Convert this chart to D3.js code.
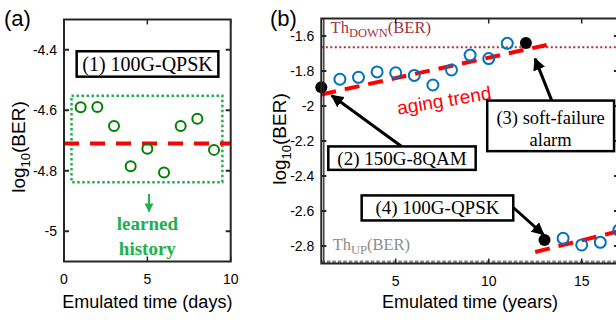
<!DOCTYPE html>
<html><head><meta charset="utf-8">
<script src="https://cdn.jsdelivr.net/npm/d3@7"></script>
<style>body{margin:0;background:#fff}svg{display:block}</style>
</head><body><svg id="c" width="616" height="320"></svg>
<script>
// ---- Panel (a) data ----
const daysA = [1,2,3,4,5,6,7,8,9];
const berA = [-4.59,-4.589,-4.652,-4.785,-4.727,-4.806,-4.652,-4.628,-4.731];
const meanA = -4.71;
const xTicksA = [0,5,10];
const yTicksA = [-5,-4.8,-4.6,-4.4];
// ---- Panel (b) data ----
const yearsB1 = [2,3,4,5,6,7,8,9,10,11];
const berB1 = [-1.847,-1.836,-1.805,-1.810,-1.825,-1.880,-1.794,-1.709,-1.729,-1.642];
const yearsB2 = [14,15,16,17];
const berB2 = [-2.756,-2.794,-2.779,-2.709];
const eventYears = [1,12,13];
const eventBer = [-1.893,-1.640,-2.766];
const trendYears1 = [1,13.12];
const trendBer1 = [-1.934,-1.651];
const trendYears2 = [12.5,17];
const trendBer2 = [-2.834,-2.715];
const thDown = -1.664;
const thUp = -2.893;
const xTicksB = [5,10,15];
const yTicksB = [-2.8,-2.6,-2.4,-2.2,-2,-1.8,-1.6];

const svg = d3.select('#c');
svg.append('rect').attr('width',616).attr('height',320).attr('fill','#fff');
const SANS = 'Liberation Sans, Arial, sans-serif';
const SERIF = 'Liberation Serif, Times New Roman, serif';
const FR = '#262626';

svg.append('defs').html(
 '<marker id="ah" viewBox="0 0 10 10" refX="9" refY="5" markerWidth="4.2" markerHeight="4.2" orient="auto" markerUnits="strokeWidth"><path d="M0,0L10,5L0,10z" fill="#000"/></marker>'+
 '<marker id="ag" viewBox="0 0 10 10" refX="9" refY="5" markerWidth="4.5" markerHeight="4.5" orient="auto" markerUnits="strokeWidth"><path d="M0,0L10,5L0,10z" fill="#20b04b"/></marker>'+
 '<clipPath id="clipB"><rect x="321" y="17" width="300" height="248"/></clipPath>');

function frame(g, x, y, xt, yt, fmtY, ylabX, ylabY, xlab){
  const [x0,x1]=x.range(), [y0,y1]=y.range();
  xt.forEach(v=>{
    g.append('line').attr('x1',x(v)).attr('x2',x(v)).attr('y1',y0).attr('y2',y0-5).attr('stroke',FR).attr('stroke-width',1.5);
    g.append('line').attr('x1',x(v)).attr('x2',x(v)).attr('y1',y1).attr('y2',y1+5).attr('stroke',FR).attr('stroke-width',1.5);
    g.append('text').attr('x',x(v)).attr('y',y0+22).attr('text-anchor','middle').attr('font-family',SANS).attr('font-size',14).text(String(v));
  });
  yt.forEach(v=>{
    g.append('line').attr('x1',x0).attr('x2',x0+5).attr('y1',y(v)).attr('y2',y(v)).attr('stroke',FR).attr('stroke-width',2);
    g.append('line').attr('x1',x1).attr('x2',x1-5).attr('y1',y(v)).attr('y2',y(v)).attr('stroke',FR).attr('stroke-width',2);
    g.append('text').attr('x',x0-7).attr('y',y(v)+5).attr('text-anchor','end').attr('font-family',SANS).attr('font-size',14).text(fmtY(v));
  });
  g.append('rect').attr('x',x0).attr('y',y1).attr('width',x1-x0).attr('height',y0-y1).attr('fill','none').attr('stroke',FR).attr('stroke-width',2);
  const t = g.append('text').attr('transform',`translate(${ylabX},${ylabY}) rotate(-90)`).attr('text-anchor','middle').attr('font-family',SANS).attr('font-size',19);
  t.append('tspan').text('log');
  t.append('tspan').attr('font-size',13).attr('dy',5).text('10');
  t.append('tspan').attr('dy',-5).text('(BER)');
  g.append('text').attr('x',(x0+x1)/2).attr('y',308).attr('text-anchor','middle').attr('font-family',SANS).attr('font-size',18).text(xlab);
}
const fmt = v => String(+v.toFixed(1));

// ===== Panel (a) =====
const xa = d3.scaleLinear().domain([0,10]).range([64,230.7]);
const ya = d3.scaleLinear().domain([-5.1,-4.3]).range([261.5,19.5]);
const ga = svg.append('g');
svg.append('text').attr('x',4).attr('y',26).attr('font-family',SANS).attr('font-size',22).text('(a)');
ga.append('rect').attr('x',xa(0.45)).attr('y',ya(-4.552)).attr('width',xa(9.5)-xa(0.45)).attr('height',ya(-4.838)-ya(-4.552))
  .attr('fill','none').attr('stroke','#20b04b').attr('stroke-width',2.5).attr('stroke-dasharray','2.5,2.5');
ga.append('line').attr('x1',xa(0)).attr('x2',xa(10)).attr('y1',ya(meanA)).attr('y2',ya(meanA))
  .attr('stroke','#ff0000').attr('stroke-width',4).attr('stroke-dasharray','15,11');
ga.selectAll('circle.a').data(daysA).join('circle').attr('cx',d=>xa(d)).attr('cy',(d,i)=>ya(berA[i])).attr('r',5)
  .attr('fill','none').attr('stroke','#008000').attr('stroke-width',2);
frame(ga, xa, ya, xTicksA, yTicksA, fmt, 25, 147, 'Emulated time (days)');
ga.append('rect').attr('x',xa(0.76)).attr('y',ya(-4.405)).attr('width',xa(9.26)-xa(0.76)).attr('height',ya(-4.489)-ya(-4.405))
  .attr('fill','#fff').attr('stroke','#000').attr('stroke-width',2.5);
ga.append('text').attr('x',(xa(0.76)+xa(9.26))/2).attr('y',ya(-4.405)+20).attr('text-anchor','middle').attr('font-family',SERIF).attr('font-size',20).text('(1) 100G-QPSK');
ga.append('line').attr('x1',xa(5.1)).attr('x2',xa(5.1)).attr('y1',ya(-4.877)).attr('y2',ya(-4.935))
  .attr('stroke','#20b04b').attr('stroke-width',2).attr('marker-end','url(#ag)');
ga.append('text').attr('x',xa(5.0)).attr('y',ya(-4.996)).attr('text-anchor','middle').attr('font-family',SERIF).attr('font-weight','bold').attr('font-size',19).attr('fill','#20b04b').text('learned');
ga.append('text').attr('x',xa(5.0)).attr('y',ya(-5.079)).attr('text-anchor','middle').attr('font-family',SERIF).attr('font-weight','bold').attr('font-size',19).attr('fill','#20b04b').text('history');

// ===== Panel (b) =====
const xb = d3.scaleLinear().domain([1,17]).range([321.3,618.9]);
const yb = d3.scaleLinear().domain([-2.9,-1.5]).range([263.5,18.5]);
const gb = svg.append('g');
svg.append('text').attr('x',270).attr('y',26).attr('font-family',SANS).attr('font-size',22).text('(b)');
const pc = gb.append('g').attr('clip-path','url(#clipB)');
pc.append('line').attr('x1',xb(1)).attr('x2',xb(17)).attr('y1',yb(thDown)).attr('y2',yb(thDown))
  .attr('stroke','#a3333d').attr('stroke-width',2).attr('stroke-dasharray','2,2.5');
pc.append('line').attr('x1',xb(1)).attr('x2',xb(17)).attr('y1',yb(thUp)).attr('y2',yb(thUp))
  .attr('stroke','#808080').attr('stroke-width',3.5).attr('stroke-dasharray','3.5,2');
const tl = d3.line().x(d=>xb(d[0])).y(d=>yb(d[1]));
pc.append('path').attr('d',tl(trendYears1.map((v,i)=>[v,trendBer1[i]]))).attr('fill','none')
  .attr('stroke','#ff0000').attr('stroke-width',4).attr('stroke-dasharray','15,9');
pc.append('path').attr('d',tl(trendYears2.map((v,i)=>[v,trendBer2[i]]))).attr('fill','none')
  .attr('stroke','#ff0000').attr('stroke-width',4).attr('stroke-dasharray','15,9');
pc.selectAll('circle.b1').data(yearsB1).join('circle').attr('cx',d=>xb(d)).attr('cy',(d,i)=>yb(berB1[i])).attr('r',5.5)
  .attr('fill','none').attr('stroke','#0072BD').attr('stroke-width',2);
pc.selectAll('circle.b2').data(yearsB2).join('circle').attr('cx',d=>xb(d)).attr('cy',(d,i)=>yb(berB2[i])).attr('r',5.5)
  .attr('fill','none').attr('stroke','#0072BD').attr('stroke-width',2);
gb.selectAll('circle.ev').data(eventYears).join('circle').attr('cx',d=>xb(d)).attr('cy',(d,i)=>yb(eventBer[i])).attr('r',6).attr('fill','#000');
const td = gb.append('text').attr('x',xb(1.5)).attr('y',yb(-1.585)).attr('font-family',SERIF).attr('font-size',16.5).attr('fill','#a3333d');
td.append('tspan').text('Th'); td.append('tspan').attr('font-size',12.5).attr('dy',4).text('DOWN'); td.append('tspan').attr('dy',-4).text('(BER)');
const tu = gb.append('text').attr('x',xb(1.61)).attr('y',yb(-2.823)).attr('font-family',SERIF).attr('font-size',16.5).attr('fill','#8c8c8c');
tu.append('tspan').text('Th'); tu.append('tspan').attr('font-size',12.5).attr('dy',4).text('UP'); tu.append('tspan').attr('dy',-4).text('(BER)');
gb.append('text').attr('transform',`translate(${xb(5.14)},${yb(-2.05)}) rotate(-9.5)`).attr('font-family',SANS).attr('font-size',19).attr('fill','#ff0000').text('aging trend');
frame(gb, xb, yb, xTicksB, yTicksB, fmt, 286, 139, 'Emulated time (years)');
gb.append('line').attr('x1',323.8).attr('x2',323.8).attr('y1',yb(-1.5)).attr('y2',yb(-2.9)).attr('stroke',FR).attr('stroke-width',1.3);
function arrow(x1,y1,x2,y2){
  gb.append('line').attr('x1',xb(x1)).attr('y1',yb(y1)).attr('x2',xb(x2)).attr('y2',yb(y2))
    .attr('stroke','#000').attr('stroke-width',3).attr('marker-end','url(#ah)');
}
arrow(5.32,-2.231,1.56,-1.94);
arrow(13.39,-1.969,12.49,-1.729);
arrow(11.32,-2.58,12.94,-2.734);
function box(xa0,xa1,ya0,ya1,lines,fs){
  gb.append('rect').attr('x',xb(xa0)).attr('y',yb(ya0)).attr('width',xb(xa1)-xb(xa0)).attr('height',yb(ya1)-yb(ya0))
    .attr('fill','#fff').attr('stroke','#000').attr('stroke-width',2.5);
  lines.forEach(l=>gb.append('text').attr('x',(xb(xa0)+xb(xa1))/2).attr('y',yb(ya0)+l[1]).attr('text-anchor','middle')
    .attr('font-family',SERIF).attr('font-size',fs).text(l[0]));
}
box(1.376,9.30,-2.231,-2.365,[['(2) 150G-8QAM',19]],19);
box(9.92,16.74,-1.969,-2.258,[['(3) soft-failure',23],['alarm',45]],18.5);
box(3.17,11.32,-2.511,-2.654,[['(4) 100G-QPSK',19]],19);
</script></body></html>
